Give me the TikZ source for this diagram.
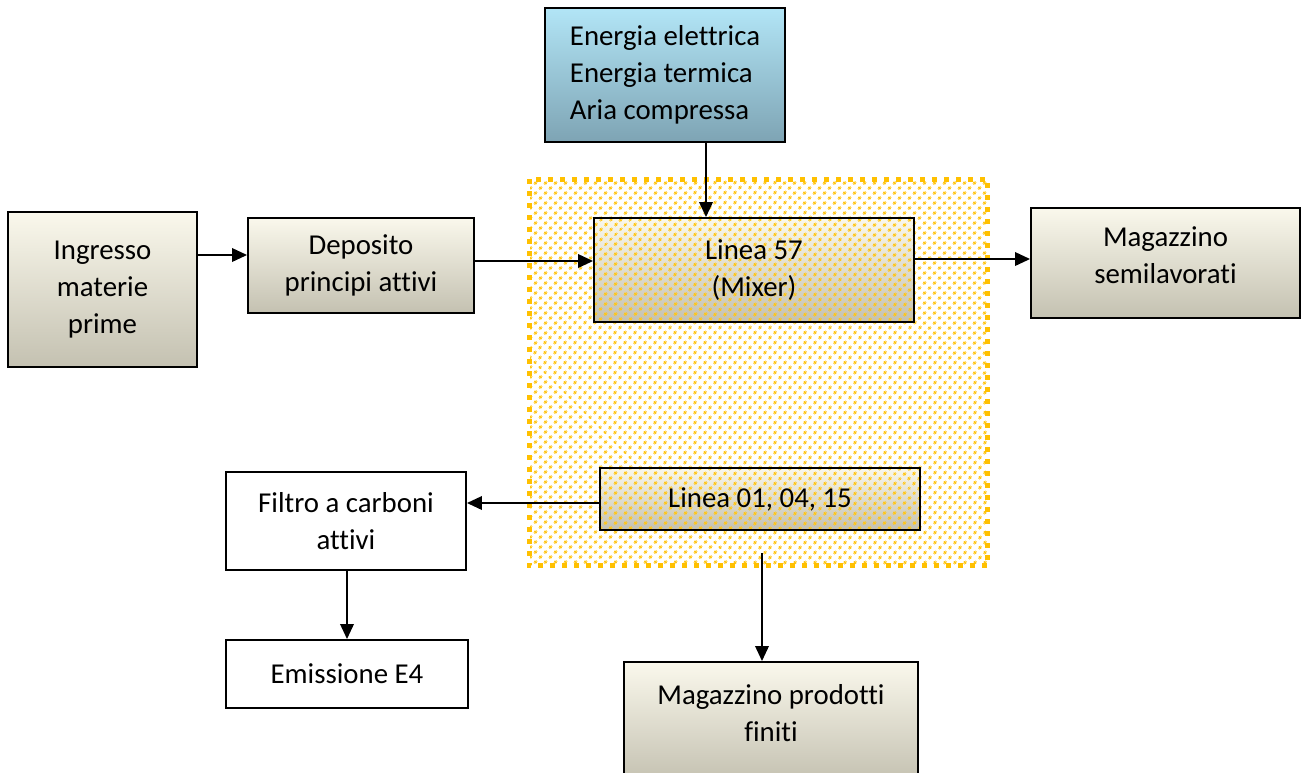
\documentclass[tikz,border=0pt]{standalone}
\usepackage{fontspec}
\setmainfont[Ligatures=NoCommon]{Carlito}
\usetikzlibrary{arrows.meta, patterns.meta, positioning}

\definecolor{beigetop}{RGB}{250,248,236}
\definecolor{beigebot}{RGB}{196,193,177}
\definecolor{bluetop}{RGB}{178,229,246}
\definecolor{bluebot}{RGB}{126,164,180}
\definecolor{dotc}{RGB}{255,192,0}

\tikzset{
  box/.style={draw, line width=1.1pt, align=center, inner sep=2pt},
  beigebox/.style={box, top color=beigetop, bottom color=beigebot},
  dotfill/.style={pattern={Dots[distance=4pt,radius=0.95pt,angle=45]}, pattern color=dotc!90},
  linebox/.style={beigebox, postaction={dotfill}, postaction={draw, line width=1.1pt}},
  >={Triangle[length=0.3cm,width=0.27cm]}
}

\begin{document}
\begin{tikzpicture}[x=0.02cm, y=-0.02cm, line width=1.1pt, font=\fontsize{16.4}{21}\selectfont]
	\useasboundingbox (0,0) rectangle (1308,772);
	% zona linee
	\node (zone) at (758.5,372.5) [dotfill, minimum width=9.14cm, minimum height=7.7cm] {};
	\draw [dotc, line width=0.1cm, dash pattern=on 0.1cm off 0.14cm] (zone.north west) rectangle (zone.south east);
	% nodi
	\node (ing) at (102.5,289.5) [beigebox, minimum width=3.78cm, minimum height=3.1cm] {Ingresso\\materie\\prime};
	\node (dep) at (361,265.5) [beigebox, minimum width=4.52cm, minimum height=1.9cm] {Deposito\\principi attivi};
	\node (en) at (665,75) [box, align=left, top color=bluetop, bottom color=bluebot, minimum width=4.8cm, minimum height=2.68cm] {Energia elettrica\\Energia termica\\Aria compressa};
	\node (mix) at (754,270) [linebox, minimum width=6.4cm, minimum height=2.08cm] {Linea 57\\(Mixer)};
	\node (semi) at (1165.5,263) [beigebox, minimum width=5.38cm, minimum height=2.2cm] {Magazzino\\semilavorati\\[-12pt]};
	\node (lin) at (760,499) [linebox, minimum width=6.4cm, minimum height=1.24cm] {Linea 01, 04, 15};
	\node (fil) at (346,521) [box, fill=white, minimum width=4.8cm, minimum height=1.96cm] {Filtro a carboni\\attivi};
	\node (emi) at (347,674) [box, fill=white, minimum width=4.84cm, minimum height=1.36cm] {Emissione E4};
	\node (prod) at (771,722) [beigebox, minimum width=5.88cm, minimum height=2.4cm] {Magazzino prodotti\\finiti\\[-10.4pt]};
	% punti di appoggio
	\coordinate (r1) at (0,255);
	\coordinate (r2) at (0,261);
	\coordinate (r3) at (0,259);
	\coordinate (r4) at (0,503);
	\coordinate (ein) at (706,0);
	\coordinate (zout) at (762,553);
	% frecce
	\draw [->] (ing.east |- r1) to (dep.west |- r1);
	\draw [->] (dep.east |- r2) to (mix.west |- r2);
	\draw [->] (en.south -| ein) to (mix.north -| ein);
	\draw [->] (mix.east |- r3) to (semi.west |- r3);
	\draw [->] (lin.west |- r4) to (fil.east |- r4);
	\draw [->] (fil.south -| emi.north) to (emi.north);
	\draw [->] (zout) to (zout |- prod.north);
\end{tikzpicture}
\end{document}
